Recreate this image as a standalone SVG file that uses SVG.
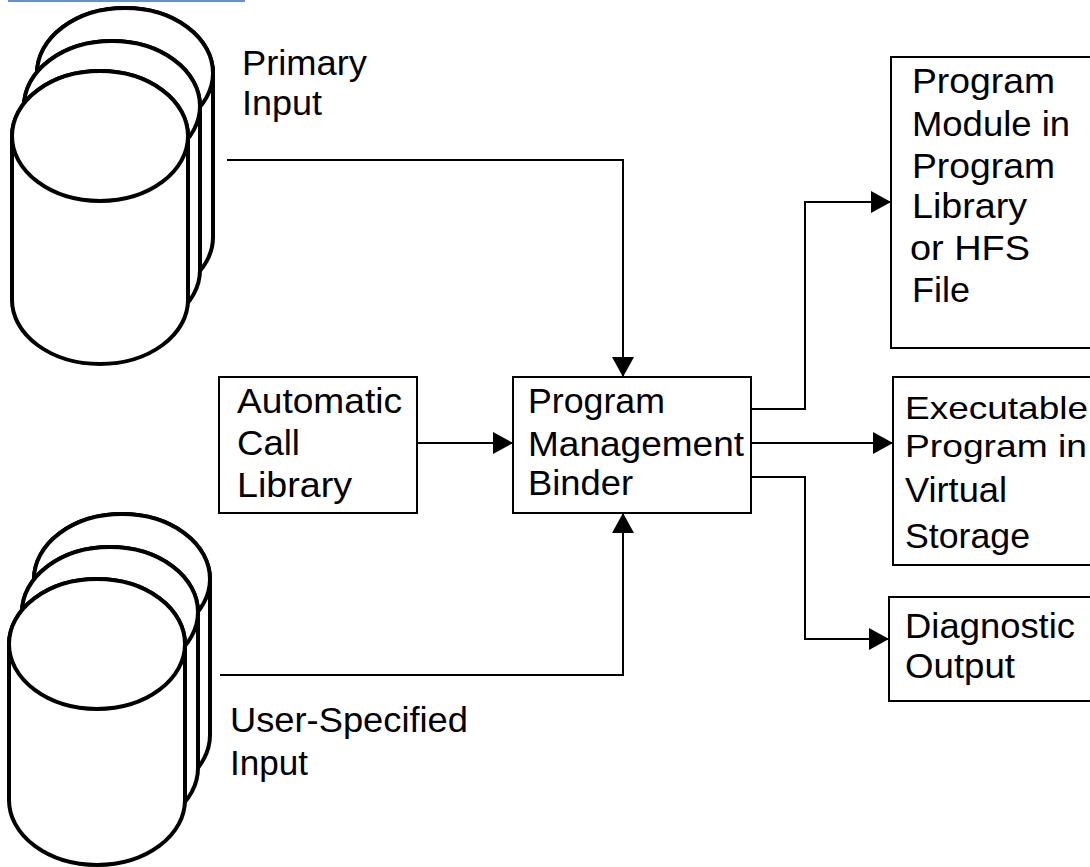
<svg xmlns="http://www.w3.org/2000/svg" width="1090" height="867" viewBox="0 0 1090 867">
<defs>
<style>
.cyl{fill:#fff;stroke:#000;stroke-width:4}
.box{fill:#fff;stroke:#000;stroke-width:2}
.con{fill:none;stroke:#000;stroke-width:2}
text{font-family:"Liberation Sans",Arial,sans-serif;font-size:35px;fill:#000}
text.sm{font-size:32px}
</style>
<marker id="ah" viewBox="0 0 20 22" refX="20" refY="11" markerWidth="20" markerHeight="22" markerUnits="userSpaceOnUse" orient="auto">
<path d="M0,0 L20,11 L0,22 Z" fill="#000"/>
</marker>
</defs>
<rect width="1090" height="867" fill="#fff"/>
<line x1="8" y1="1" x2="245" y2="1" stroke="#6b8cc7" stroke-width="2"/>

<g id="primary-input">
<path class="cyl" d="M37,73 V237 A88 65 0 0 0 213,237 V73 A88 65 0 0 0 37,73 Z"/>
<ellipse class="cyl" cx="125" cy="73" rx="88" ry="65"/>
<path class="cyl" d="M24,106 V270 A88 65 0 0 0 200,270 V106 A88 65 0 0 0 24,106 Z"/>
<ellipse class="cyl" cx="112" cy="106" rx="88" ry="65"/>
<path class="cyl" d="M12,136 V300 A88 64 0 0 0 188,300 V136 A88 65 0 0 0 12,136 Z"/>
<ellipse class="cyl" cx="100" cy="136" rx="88" ry="65"/>
<text x="242" y="75" textLength="125" lengthAdjust="spacingAndGlyphs">Primary</text>
<text x="242" y="115" textLength="80" lengthAdjust="spacingAndGlyphs">Input</text>
</g>

<g id="user-input">
<path class="cyl" d="M34,579 V735 A88 65 0 0 0 210,735 V579 A88 65 0 0 0 34,579 Z"/>
<ellipse class="cyl" cx="122" cy="579" rx="88" ry="65"/>
<path class="cyl" d="M22,612 V768 A88 65 0 0 0 198,768 V612 A88 65 0 0 0 22,612 Z"/>
<ellipse class="cyl" cx="110" cy="612" rx="88" ry="65"/>
<path class="cyl" d="M9,644 V800 A88 65 0 0 0 185,800 V644 A88 65 0 0 0 9,644 Z"/>
<ellipse class="cyl" cx="97" cy="644" rx="88" ry="65"/>
<text x="230" y="732" textLength="238" lengthAdjust="spacingAndGlyphs">User-Specified</text>
<text x="230" y="775" textLength="78" lengthAdjust="spacingAndGlyphs">Input</text>
</g>

<g id="auto-call-library">
<rect class="box" x="219" y="377" width="198" height="136"/>
<text x="237" y="413" textLength="165" lengthAdjust="spacingAndGlyphs">Automatic</text>
<text x="237" y="455" textLength="63" lengthAdjust="spacingAndGlyphs">Call</text>
<text x="237" y="497" textLength="115" lengthAdjust="spacingAndGlyphs">Library</text>
</g>

<g id="binder">
<rect class="box" x="513" y="377" width="238" height="136"/>
<text x="528" y="413" textLength="137" lengthAdjust="spacingAndGlyphs">Program</text>
<text x="528" y="456" textLength="216" lengthAdjust="spacingAndGlyphs">Management</text>
<text x="528" y="495" textLength="105" lengthAdjust="spacingAndGlyphs">Binder</text>
</g>

<g id="program-module">
<rect class="box" x="891" y="57" width="220" height="291"/>
<text x="912" y="93" textLength="143" lengthAdjust="spacingAndGlyphs">Program</text>
<text x="912" y="136" textLength="158" lengthAdjust="spacingAndGlyphs">Module in</text>
<text x="912" y="178" textLength="143" lengthAdjust="spacingAndGlyphs">Program</text>
<text x="912" y="218" textLength="115" lengthAdjust="spacingAndGlyphs">Library</text>
<text x="910" y="260" textLength="120" lengthAdjust="spacingAndGlyphs">or HFS</text>
<text x="912" y="302" textLength="58" lengthAdjust="spacingAndGlyphs">File</text>
</g>

<g id="executable">
<rect class="box" x="893" y="377" width="220" height="188"/>
<text class="sm" x="905" y="419" textLength="183" lengthAdjust="spacingAndGlyphs">Executable</text>
<text class="sm" x="905" y="457" textLength="182" lengthAdjust="spacingAndGlyphs">Program in</text>
<text x="905" y="502" textLength="102" lengthAdjust="spacingAndGlyphs">Virtual</text>
<text x="905" y="548" textLength="125" lengthAdjust="spacingAndGlyphs">Storage</text>
</g>

<g id="diagnostic">
<rect class="box" x="889" y="597" width="220" height="104"/>
<text x="905" y="638" textLength="170" lengthAdjust="spacingAndGlyphs">Diagnostic</text>
<text x="905" y="678" textLength="110" lengthAdjust="spacingAndGlyphs">Output</text>
</g>

<g id="connectors">
<path class="con" d="M227,160 H623 V377" marker-end="url(#ah)"/>
<path class="con" d="M417,443 H513" marker-end="url(#ah)"/>
<path class="con" d="M220,675 H623 V513" marker-end="url(#ah)"/>
<path class="con" d="M751,409 H805 V202 H891" marker-end="url(#ah)"/>
<path class="con" d="M751,443 H893" marker-end="url(#ah)"/>
<path class="con" d="M751,477 H805 V639 H889" marker-end="url(#ah)"/>
</g>
</svg>
